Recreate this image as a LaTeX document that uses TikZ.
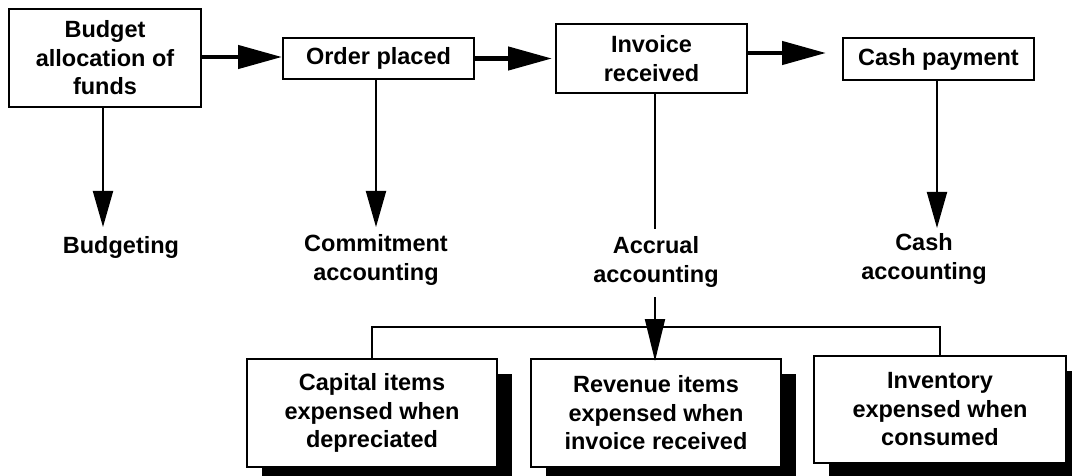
\documentclass[tikz,border=0pt]{standalone}
\usepackage{fontspec}
\setmainfont{Liberation Sans}
\usetikzlibrary{arrows.meta,shadows}

\begin{document}
\begin{tikzpicture}[x=1pt,y=-1pt,
  every node/.style={font=\fontsize{23.5}{28.5}\selectfont\bfseries, align=center, inner sep=0pt},
  stage/.style={draw=black, line width=2pt, fill=white},
  outcome/.style={stage, drop shadow={shadow xshift=14.5pt, shadow yshift=-14.5pt, opacity=1, fill=black}},
  flow/.style={line width=4.5pt, -{Triangle[length=44pt,width=23pt]}},
  link/.style={line width=2pt},
  drop/.style={line width=2pt, -{Triangle[length=36pt,width=20pt]}},
  feed/.style={line width=2pt, -{Triangle[length=42pt,width=20pt]}}
]
\useasboundingbox (0,0) rectangle (1072,476);
\clip (0,0) rectangle (1072,476);

% process stages along the top
\node[stage, minimum width=192pt, minimum height=98pt] (budget) at (105,58)
  {Budget\\allocation of\\funds};
\node[stage, minimum width=191pt, minimum height=41pt] (order) at (378.5,58.5)
  {Order placed};
\node[stage, minimum width=191pt, minimum height=69pt] (invoice) at (651.5,58.5)
  {Invoice\\received};
\node[stage, minimum width=191pt, minimum height=42pt] (cash) at (938.5,59)
  {Cash payment};

% accounting bases
\node (lbudget) at (121,247) {Budgeting};
\node (lcommit) at (376,260) {Commitment\\accounting};
\node (laccrual) at (656,262) {Accrual\\accounting};
\node (lcash) at (924,259) {Cash\\accounting};

% accrual outcomes
\node[outcome, minimum width=250pt, minimum height=108pt] (capital) at (372,413)
  {Capital items\\expensed when\\depreciated};
\node[outcome, minimum width=250pt, minimum height=108pt] (revenue) at (656,413)
  {Revenue items\\expensed when\\invoice received};
\node[outcome, minimum width=252pt, minimum height=107pt] (inventory) at (940,409.5)
  {Inventory\\expensed when\\consumed};

% arrow ends and junction points
\coordinate (tbudget) at (103,227);
\coordinate (tcommit) at (376,227);
\coordinate (tcash) at (937,228);
\coordinate (iabove) at (655,229);
\coordinate (ibelow) at (655,297);
\coordinate (bus) at (655,327);

% main flow
\draw[flow] (budget.east |- 0,57) -- (order.west |- 0,57);
\draw[flow] (order.east) -- ([xshift=-3pt]invoice.west);
\draw[flow] (invoice.east |- 0,53) -- ([xshift=-16pt]cash.west |- 0,53);

% down to the accounting bases
\draw[drop] (tbudget |- budget.south) -- (tbudget);
\draw[drop] (tcommit |- order.south) -- (tcommit);
\draw[drop] (tcash |- cash.south) -- (tcash);
\draw[link] (iabove |- invoice.south) -- (iabove);

% accrual branches
\draw[feed] (ibelow) -- ([yshift=-3pt]ibelow |- revenue.north);
\draw[link] (capital.north) -- (capital.north |- bus) -- (inventory.north |- bus) -- (inventory.north);
\end{tikzpicture}
\end{document}
